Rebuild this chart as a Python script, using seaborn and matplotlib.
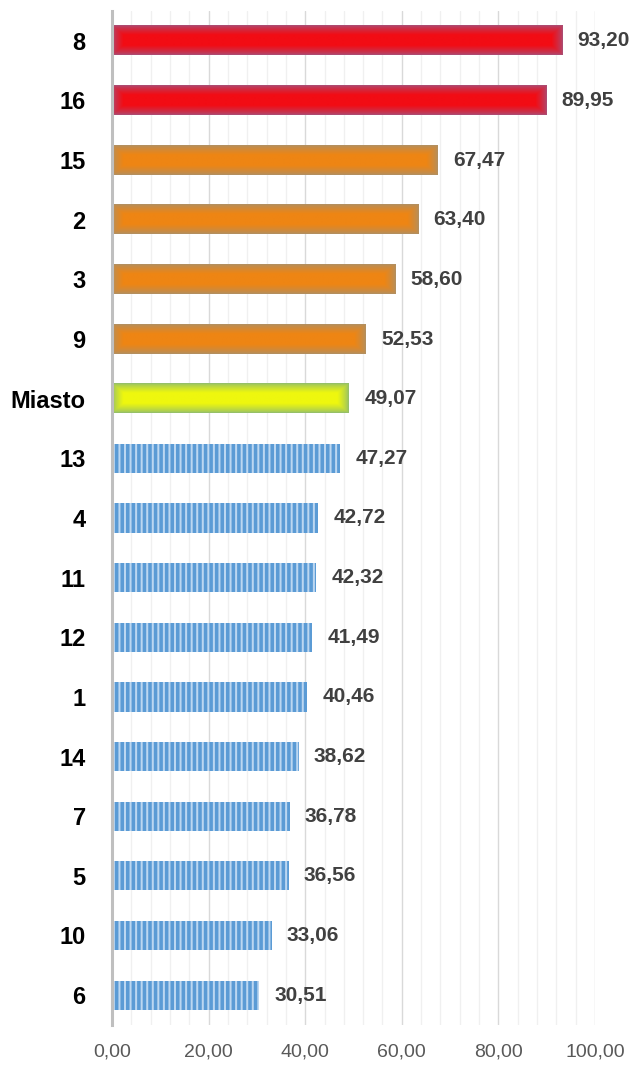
import numpy as np
import pandas as pd
import matplotlib
matplotlib.use("Agg")
import matplotlib.pyplot as plt
import matplotlib.colors as mcolors
from matplotlib.ticker import MultipleLocator, FuncFormatter
import seaborn as sns

# data, top to bottom as in the chart
districts = ["8", "16", "15", "2", "3", "9", "Miasto", "13", "4", "11",
             "12", "1", "14", "7", "5", "10", "6"]
values = [93.20, 89.95, 67.47, 63.40, 58.60, 52.53, 49.07, 47.27, 42.72,
          42.32, 41.49, 40.46, 38.62, 36.78, 36.56, 33.06, 30.51]
groups = ["red", "red", "orange", "orange", "orange", "orange", "yellow",
          "blue", "blue", "blue", "blue", "blue", "blue", "blue", "blue",
          "blue", "blue"]

# (centre colour, edge colour) for the shaded bars
shades = {
    "red": ("#F20C14", "#AE4A70"),
    "orange": ("#EE8513", "#B48F5E"),
    "yellow": ("#EEF70E", "#96C068"),
}
blue_face = "#5B9BD5"
blue_stripe = "#BCD7F1"

sns.set_style("white")
plt.rcParams["font.family"] = ["Liberation Sans", "DejaVu Sans"]
plt.rcParams["hatch.linewidth"] = 1.45

df = pd.DataFrame({"district": districts, "value": values})

fig = plt.figure(figsize=(6.35, 10.67), dpi=100)
ax = fig.add_axes([0.1764, 0.0394, 0.9370 - 0.1764, 0.9897 - 0.0394])

sns.barplot(data=df, x="value", y="district", order=districts, orient="h",
            color=blue_face, width=0.49, ax=ax, zorder=2)

ax.set_xlim(0, 100)
ylim = ax.get_ylim()
fig.canvas.draw()

# pixels per data unit, for the soft edges of the shaded bars
o = ax.transData.transform((0, 0))
sx = abs(ax.transData.transform((1, 0))[0] - o[0])
sy = abs(ax.transData.transform((0, 1))[1] - o[1])

for p, g in zip(ax.patches, groups):
    if g == "blue":
        p.set_facecolor(blue_face)
        p.set_edgecolor(blue_stripe)
        p.set_linewidth(0)
        p.set_hatch("|||")
    else:
        centre, edge = shades[g]
        c = np.array(mcolors.to_rgb(centre))
        e = np.array(mcolors.to_rgb(edge))
        nx = max(int(p.get_width() * sx), 2)
        ny = max(int(abs(p.get_height()) * sy), 2)
        xx = np.arange(nx)
        yy = np.arange(ny)
        dx = np.minimum(xx, nx - 1 - xx) / 11.0
        dy = np.minimum(yy, ny - 1 - yy) / 9.0
        t = np.clip(np.minimum(dy[:, None], dx[None, :]), 0, 1) ** 0.75
        img = e + (c - e) * t[..., None]
        x0, y0 = p.get_x(), p.get_y()
        ax.imshow(img, extent=[x0, x0 + p.get_width(), y0 + p.get_height(), y0],
                  aspect="auto", interpolation="bilinear", zorder=2.5)
        p.set_facecolor(centre)
        p.set_linewidth(0)

ax.set_xlim(0, 100)
ax.set_ylim(ylim)

labels = [f"{v:.2f}".replace(".", ",") for v in values]
ax.bar_label(ax.containers[0], labels=labels, padding=11, fontsize=15,
             fontweight="bold", color="#404040", zorder=4)

# axes, grid
ax.xaxis.set_major_locator(MultipleLocator(20))
ax.xaxis.set_minor_locator(MultipleLocator(4))
ax.xaxis.set_major_formatter(FuncFormatter(lambda v, pos: f"{v:.2f}".replace(".", ",")))
ax.grid(which="major", axis="x", color="#D9D9D9", linewidth=1.0, zorder=0)
ax.grid(which="minor", axis="x", color="#F0F0F0", linewidth=1.0, zorder=0)
ax.set_axisbelow(True)

for side in ["top", "right", "bottom"]:
    ax.spines[side].set_visible(False)
ax.spines["left"].set_color("#BFBFBF")
ax.spines["left"].set_linewidth(2.2)
ax.spines["left"].set_zorder(3)

ax.tick_params(axis="x", which="both", length=0, pad=13, labelsize=14,
               labelcolor="#595959")
ax.tick_params(axis="y", length=0, pad=19, labelsize=17)
for lbl in ax.get_yticklabels():
    lbl.set_fontweight("bold")
    lbl.set_color("black")

ax.set_xlabel("")
ax.set_ylabel("")

fig.savefig("out.png", dpi=100)
